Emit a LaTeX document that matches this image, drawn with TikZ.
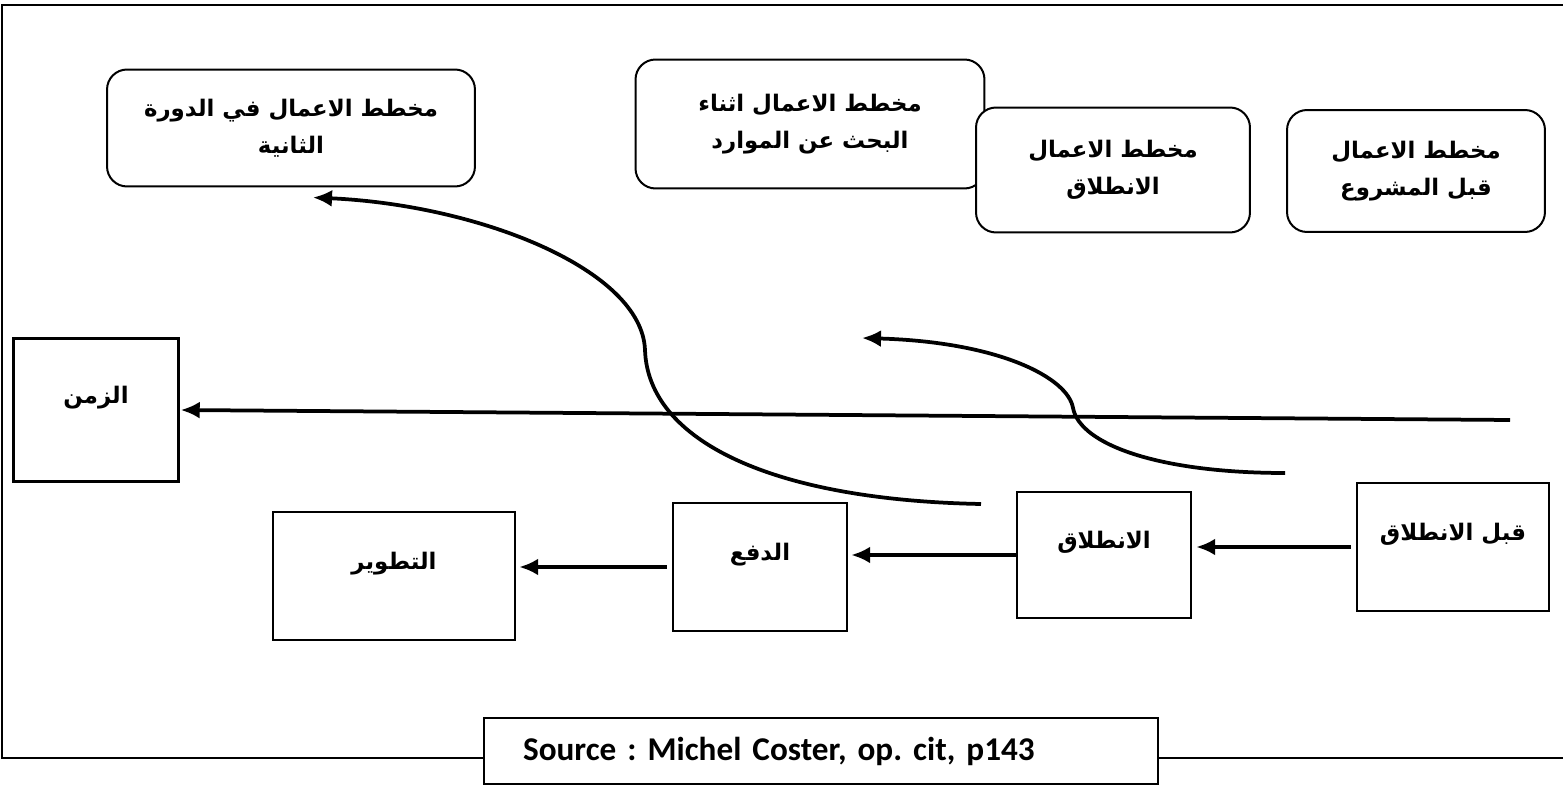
\documentclass[tikz,border=0pt]{standalone}
\usepackage{fontspec}
\setmainfont{Carlito}
\newfontfamily\arabicfont[Script=Arabic]{DejaVu Sans}
\TeXXeTstate=1
\frenchspacing
\usetikzlibrary{calc,arrows.meta}

\tikzset{
  plan/.style={draw, rounded corners=0.4cm, line width=0.4mm, fill=white, align=center,
    font=\arabicfont\bfseries\fontsize{13}{21}\selectfont},
  phase/.style={draw, line width=0.5mm, fill=white, text height=0.45cm, text depth=0.7cm,
    font=\arabicfont\bfseries\fontsize{13}{16}\selectfont},
  flow/.style={line width=0.75mm, -{Latex[length=3.8mm,width=3.4mm]}},
}

\begin{document}
\begin{tikzpicture}[x=0.02cm, y=-0.02cm]
		%%%%% START %%%%%
		\useasboundingbox (0,0) rectangle (1563,786);
		\draw[line width=0.4mm] (1563,5) -- (2,5) -- (2,758) -- (1563,758);
		
		% plans
		\node[plan, minimum width=7.36cm, minimum height=2.34cm] (cycle) at (291,128) {\beginR مخطط الاعمال في الدورة\endR\\\beginR الثانية\endR};
		\node[plan, minimum width=6.98cm, minimum height=2.58cm] (search) at (810,124) {\beginR مخطط الاعمال اثناء\endR\\\beginR البحث عن الموارد\endR};
		\node[plan, minimum width=5.48cm, minimum height=2.5cm] (launch) at (1113,170) {\beginR مخطط الاعمال\endR\\\beginR الانطلاق\endR};
		\node[plan, minimum width=5.16cm, minimum height=2.44cm] (project) at (1416,171) {\beginR مخطط الاعمال\endR\\\beginR قبل المشروع\endR};
		
		% phases
		\node[phase, minimum width=3.3cm, minimum height=2.86cm] (time) at (96,410) {\beginR الزمن\endR};
		\node[phase, minimum width=4.84cm, minimum height=2.56cm] (dev) at (394,576) {\beginR التطوير\endR};
		\node[phase, minimum width=3.48cm, minimum height=2.56cm] (push) at (760,567) {\beginR الدفع\endR};
		\node[phase, minimum width=3.48cm, minimum height=2.52cm] (start) at (1104,555) {\beginR الانطلاق\endR};
		\node[phase, minimum width=3.84cm, minimum height=2.56cm] (pre) at (1453,547) {\beginR قبل الانطلاق\endR};
		
		\draw[flow, shorten <=0.1cm, shorten >=0.08cm] (pre.west) -- (pre.west -| start.east);
		\draw[flow, shorten >=0.06cm] (start.west) -- (start.west -| push.east);
		\draw[flow, shorten <=0.1cm, shorten >=0.06cm] (push.west) -- (push.west -| dev.east);
		
		% time axis
		\coordinate (now) at (1510,420);
		\draw[flow, shorten >=0.02cm] (now) -- (time.east);
		
		% curves
		\coordinate (c1) at (981,504);
		\draw[flow] (c1) .. controls (770,500) and (648,440) .. (645,350) .. controls (642,270) and (480,205) .. ($(cycle.south)+(22,10)$);
		\coordinate (c2) at (1285,473);
		\coordinate (c2tip) at (862,338);
		\draw[flow] (c2) .. controls (1160,473) and (1080,445) .. (1073,408) .. controls (1068,378) and (1000,342) .. (c2tip);
		
		\node[draw, line width=0.4mm, fill=white, minimum height=1.32cm, inner xsep=0.78cm, text width=11.92cm, align=left,
		  font=\bfseries\fontsize{18.9}{20}\selectfont] (source) at (821,751) {Source : Michel Coster, op. cit, p143};
		%%%%% END %%%%%
	\end{tikzpicture}
\end{document}
